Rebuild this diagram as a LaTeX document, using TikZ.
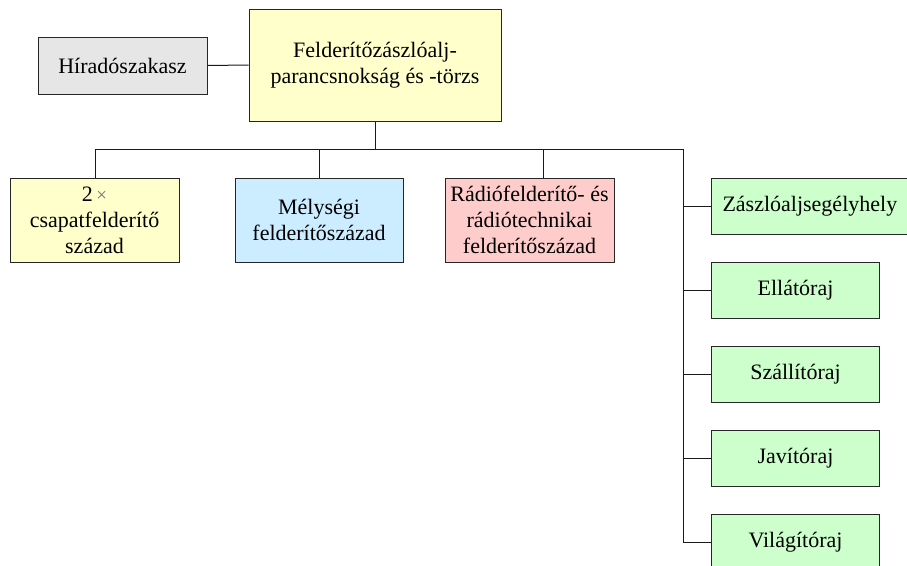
\documentclass[tikz,border=0pt]{standalone}
\usepackage{fontspec}
\setmainfont{Liberation Serif}
\definecolor{cgray}{HTML}{E6E6E6}
\definecolor{cyellow}{HTML}{FFFFCC}
\definecolor{cblue}{HTML}{CCECFF}
\definecolor{cpink}{HTML}{FFCCCC}
\definecolor{cgreen}{HTML}{CCFFCC}
\begin{document}
\begin{tikzpicture}[x=1pt,y=-1pt,
  box/.style={draw=black!85, line width=1pt, inner sep=0pt, align=center,
    font=\fontsize{22}{26}\selectfont},
  conn/.style={draw=black!90, line width=1pt}]
\useasboundingbox (0,0) rectangle (907,565);
\clip (0,0) rectangle (907,565);
\fill[white] (0,0) rectangle (907,565);
\node[box, fill=cgray, minimum width=169pt, minimum height=57pt] (hir) at (122.5,65.5) {Híradószakasz};
\node[box, fill=cyellow, minimum width=252pt, minimum height=112pt] (main) at (375,65) {Felderítőzászlóalj-\\parancsnokság és -törzs};
\node[box, fill=cyellow, minimum width=169pt, minimum height=84pt] (b1) at (94.5,220) {2\,{\color{black!55}\fontsize{19}{19}\selectfont ×}\\csapatfelderítő\\század};
\node[box, fill=cblue, minimum width=168pt, minimum height=84pt] (b2) at (319,220) {Mélységi\\felderítőszázad};
\node[box, fill=cpink, minimum width=169pt, minimum height=84pt] (b3) at (529.5,220) {Rádiófelderítő- és\\rádiótechnikai\\felderítőszázad};
\node[box, fill=cgreen, minimum height=56pt, inner xsep=11pt, text width=189pt, align=left, anchor=west] (g1) at (711,206) {Zászlóaljsegélyhely};
\node[box, fill=cgreen, minimum width=168pt, minimum height=56pt, anchor=west] (g2) at (711,290) {Ellátóraj};
\node[box, fill=cgreen, minimum width=168pt, minimum height=56pt, anchor=west] (g3) at (711,374) {Szállítóraj};
\node[box, fill=cgreen, minimum width=168pt, minimum height=56pt, anchor=west] (g4) at (711,458) {Javítóraj};
\node[box, fill=cgreen, minimum width=168pt, minimum height=56pt, anchor=west] (g5) at (711,542) {Világítóraj};
\coordinate (bus) at (375,149.5);
\coordinate (busL) at (95,149.5);
\coordinate (busR) at (683,149.5);
\draw[conn] (hir.east) -- (main.west);
\draw[conn] (main.south) -- (bus);
\draw[conn] (b1.north -| busL) |- (busR) |- (g5.west);
\draw[conn] (b2.north) -- (b2.north |- bus);
\draw[conn] ([xshift=13.5pt]b3.north) -- ([xshift=13.5pt]b3.north |- bus);
\foreach \g in {g1,g2,g3,g4} \draw[conn] (\g.west) -- (\g.west -| busR);
\end{tikzpicture}
\end{document}
